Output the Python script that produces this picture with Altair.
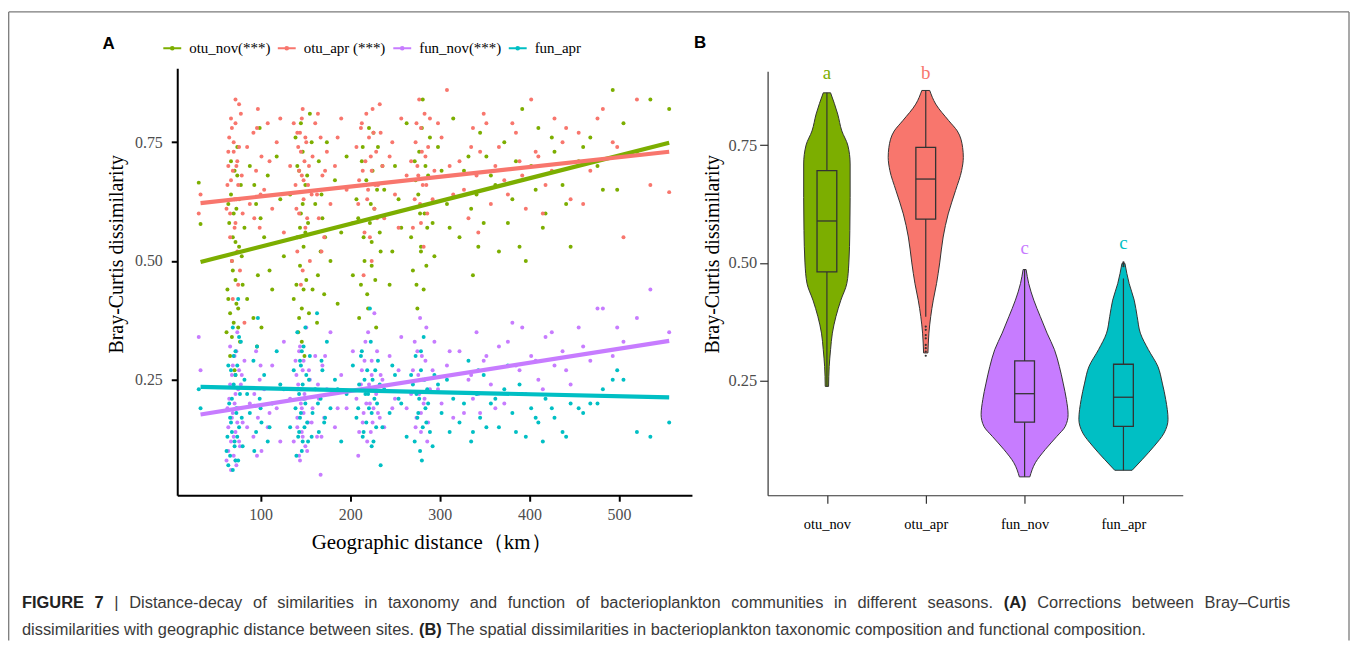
import altair as alt
import pandas as pd

# ---------------- data ----------------
categories = ["otu_nov", "otu_apr", "fun_nov", "fun_apr"]
legend_labels = ["otu_nov(***)", "otu_apr (***)", "fun_nov(***)", "fun_apr"]
palette = ["#7CAE00", "#F8766D", "#C77CFF", "#00BFC4"]

distance_km = [31, 33, 62, 64, 65, 66, 67, 68, 69, 70,
               71, 72, 72, 73, 74, 75, 76, 77, 78, 80,
               82, 88, 92, 95, 97, 99, 101, 104, 108, 113,
               118, 126, 133, 137, 139, 141, 142, 143, 144, 145,
               146, 147, 148, 149, 150, 151, 153, 155, 158, 161,
               163, 165, 167, 169, 171, 174, 178, 183, 190, 196,
               203, 207, 210, 213, 215, 217, 219, 221, 222, 224,
               225, 227, 229, 231, 234, 238, 244, 250, 257, 263,
               270, 273, 275, 277, 278, 279, 281, 282, 284, 286,
               289, 294, 302, 308, 315, 322, 332, 337, 341, 345,
               349, 357, 366, 372, 381, 389, 396, 402, 410, 418,
               428, 437, 446, 455, 468, 482, 493, 505, 520, 535, 556,
               63, 64, 66, 67, 68, 69, 70, 71, 72, 73,
               74, 75, 76, 79, 85, 93, 96, 100, 110, 122,
               140, 141, 143, 144, 145, 146, 147, 148, 150, 152,
               154, 157, 164, 168, 172, 186, 209, 212, 214, 216,
               218, 220, 223, 224, 226, 228, 230, 233, 236, 247,
               254, 268, 272, 274, 276, 279, 280, 283, 285, 287,
               292, 298, 311, 327, 335, 343, 352, 362, 376, 385,
               392, 407, 415, 425, 441, 460, 476, 498]

otu_nov = [0.665, 0.578, 0.35, 0.42, 0.58, 0.30, 0.64, 0.50, 0.55, 0.37,
           0.69, 0.46, 0.26, 0.61, 0.74, 0.40, 0.53, 0.33, 0.66, 0.45,
           0.57, 0.70, 0.38, 0.62, 0.47, 0.78, 0.36, 0.55, 0.68, 0.44,
           0.72, 0.51, 0.64, 0.42, 0.76, 0.55, 0.35, 0.69, 0.49, 0.60,
           0.40, 0.73, 0.53, 0.30, 0.66, 0.46, 0.58, 0.81, 0.44, 0.62,
           0.37, 0.71, 0.52, 0.59, 0.43, 0.75, 0.50, 0.67, 0.56, 0.72,
           0.47, 0.63, 0.38, 0.71, 0.55, 0.66, 0.43, 0.78, 0.58, 0.49,
           0.69, 0.61, 0.36, 0.74, 0.52, 0.65, 0.45, 0.70, 0.57, 0.79,
           0.48, 0.67, 0.40, 0.73, 0.60, 0.53, 0.84, 0.44, 0.70, 0.57,
           0.76, 0.51, 0.69, 0.62, 0.80, 0.55, 0.72, 0.47, 0.64, 0.77,
           0.58, 0.68, 0.52, 0.75, 0.63, 0.53, 0.50, 0.70, 0.78, 0.60,
           0.73, 0.66, 0.53, 0.71, 0.76, 0.65, 0.86, 0.79, 0.73, 0.84, 0.82,
           0.44, 0.62, 0.39, 0.71, 0.34, 0.48, 0.60, 0.27, 0.54, 0.41,
           0.68, 0.36, 0.63, 0.51, 0.42, 0.66, 0.32, 0.59, 0.48, 0.63,
           0.45, 0.70, 0.38, 0.57, 0.79, 0.33, 0.62, 0.44, 0.56, 0.68,
           0.39, 0.75, 0.47, 0.64, 0.55, 0.41, 0.59, 0.45, 0.74, 0.50,
           0.67, 0.40, 0.62, 0.54, 0.77, 0.46, 0.65, 0.56, 0.70, 0.52,
           0.63, 0.55, 0.71, 0.45, 0.64, 0.52, 0.78, 0.60, 0.49, 0.68,
           0.58, 0.74, 0.57, 0.69, 0.61, 0.53, 0.72, 0.66, 0.58, 0.71,
           0.82, 0.65, 0.57, 0.76, 0.62, 0.74, 0.70, 0.65]

otu_apr = [0.60, 0.64, 0.61, 0.70, 0.76, 0.55, 0.67, 0.78, 0.42, 0.73,
           0.63, 0.58, 0.84, 0.70, 0.52, 0.66, 0.74, 0.48, 0.81, 0.60,
           0.37, 0.62, 0.77, 0.69, 0.82, 0.57, 0.72, 0.65, 0.79, 0.61,
           0.75, 0.56, 0.70, 0.79, 0.66, 0.52, 0.74, 0.60, 0.77, 0.45,
           0.68, 0.82, 0.63, 0.71, 0.57, 0.75, 0.66, 0.50, 0.72, 0.79,
           0.64, 0.59, 0.76, 0.68, 0.55, 0.73, 0.62, 0.70, 0.80, 0.65,
           0.58, 0.74, 0.67, 0.79, 0.47, 0.71, 0.63, 0.76, 0.55, 0.69,
           0.82, 0.61, 0.73, 0.66, 0.77, 0.59, 0.72, 0.64, 0.80, 0.68,
           0.57, 0.75, 0.70, 0.84, 0.62, 0.78, 0.66, 0.53, 0.72, 0.60,
           0.80, 0.69, 0.76, 0.86, 0.64, 0.71, 0.59, 0.78, 0.68, 0.73,
           0.81, 0.62, 0.74, 0.67, 0.79, 0.71, 0.61, 0.84, 0.72, 0.66,
           0.80, 0.75, 0.63, 0.77, 0.69, 0.82, 0.75, 0.55, 0.84, 0.66, 0.645,
           0.66, 0.73, 0.60, 0.80, 0.50, 0.69, 0.75, 0.57, 0.79, 0.63,
           0.71, 0.45, 0.83, 0.68, 0.74, 0.59, 0.78, 0.64, 0.71, 0.80,
           0.61, 0.77, 0.69, 0.55, 0.73, 0.80, 0.48, 0.67, 0.76, 0.59,
           0.70, 0.64, 0.81, 0.52, 0.69, 0.76, 0.62, 0.78, 0.69, 0.56,
           0.81, 0.65, 0.72, 0.50, 0.77, 0.66, 0.59, 0.83, 0.70, 0.75,
           0.57, 0.71, 0.63, 0.79, 0.68, 0.58, 0.73, 0.81, 0.66, 0.74,
           0.63, 0.79, 0.70, 0.65, 0.74, 0.56, 0.79, 0.70, 0.64, 0.77,
           0.68, 0.73, 0.60, 0.69, 0.78, 0.62, 0.80, 0.74]

fun_nov = [0.34, 0.27, 0.08, 0.15, 0.21, 0.32, 0.12, 0.26, 0.18, 0.09,
           0.30, 0.14, 0.22, 0.07, 0.35, 0.19, 0.27, 0.11, 0.24, 0.16,
           0.29, 0.20, 0.13, 0.31, 0.17, 0.25, 0.10, 0.23, 0.15, 0.28,
           0.19, 0.33, 0.21, 0.12, 0.29, 0.17, 0.24, 0.09, 0.32, 0.20,
           0.14, 0.27, 0.18, 0.22, 0.11, 0.36, 0.16, 0.25, 0.19, 0.30,
           0.13, 0.21, 0.05, 0.28, 0.17, 0.23, 0.35, 0.15, 0.26, 0.19,
           0.31, 0.21, 0.14, 0.27, 0.18, 0.33, 0.12, 0.24, 0.20, 0.29,
           0.16, 0.39, 0.22, 0.18, 0.26, 0.15, 0.30, 0.21, 0.34, 0.19,
           0.27, 0.15, 0.31, 0.22, 0.38, 0.18, 0.25, 0.20, 0.29, 0.12,
           0.23, 0.33, 0.20, 0.28, 0.17, 0.31, 0.25, 0.21, 0.35, 0.18,
           0.29, 0.24, 0.32, 0.20, 0.37, 0.27, 0.22, 0.30, 0.25, 0.34,
           0.28, 0.31, 0.24, 0.36, 0.29, 0.40, 0.30, 0.33, 0.38, 0.44, 0.35,
           0.19, 0.10, 0.24, 0.06, 0.17, 0.28, 0.13, 0.20, 0.08, 0.31,
           0.16, 0.23, 0.12, 0.26, 0.15, 0.22, 0.09, 0.28, 0.18, 0.12,
           0.26, 0.15, 0.31, 0.08, 0.23, 0.19, 0.13, 0.29, 0.21, 0.10,
           0.27, 0.16, 0.24, 0.13, 0.30, 0.19, 0.09, 0.24, 0.16, 0.29,
           0.20, 0.35, 0.14, 0.26, 0.19, 0.23, 0.31, 0.17, 0.25, 0.19,
           0.27, 0.22, 0.33, 0.17, 0.26, 0.14, 0.30, 0.21, 0.36, 0.16,
           0.27, 0.23, 0.31, 0.18, 0.26, 0.22, 0.30, 0.19, 0.33, 0.28,
           0.36, 0.29, 0.23, 0.35, 0.27, 0.32, 0.40, 0.36]

fun_apr = [0.23, 0.19, 0.10, 0.07, 0.20, 0.17, 0.27, 0.14, 0.36, 0.24,
           0.12, 0.31, 0.08, 0.19, 0.28, 0.42, 0.15, 0.22, 0.33, 0.11,
           0.25, 0.18, 0.29, 0.14, 0.38, 0.21, 0.16, 0.26, 0.12, 0.20,
           0.31, 0.23, 0.15, 0.27, 0.19, 0.35, 0.13, 0.22, 0.17, 0.28,
           0.10, 0.24, 0.32, 0.15, 0.20, 0.26, 0.12, 0.30, 0.18, 0.23,
           0.39, 0.14, 0.21, 0.27, 0.16, 0.33, 0.19, 0.25, 0.12, 0.22,
           0.28, 0.17, 0.24, 0.31, 0.14, 0.22, 0.27, 0.19, 0.40, 0.11,
           0.25, 0.21, 0.15, 0.29, 0.07, 0.23, 0.18, 0.26, 0.20, 0.13,
           0.24, 0.30, 0.17, 0.21, 0.10, 0.27, 0.15, 0.34, 0.19, 0.23,
           0.14, 0.26, 0.18, 0.25, 0.21, 0.16, 0.29, 0.14, 0.22, 0.17,
           0.26, 0.20, 0.15, 0.23, 0.18, 0.24, 0.13, 0.19, 0.16, 0.21,
           0.17, 0.14, 0.20, 0.19, 0.20, 0.23, 0.25, 0.25, 0.14, 0.13, 0.16,
           0.13, 0.28, 0.09, 0.16, 0.21, 0.06, 0.30, 0.11, 0.26, 0.18,
           0.13, 0.08, 0.34, 0.17, 0.22, 0.10, 0.32, 0.19, 0.15, 0.24,
           0.09, 0.23, 0.14, 0.29, 0.18, 0.31, 0.12, 0.21, 0.36, 0.16,
           0.25, 0.13, 0.20, 0.29, 0.17, 0.23, 0.19, 0.30, 0.13, 0.25,
           0.16, 0.22, 0.33, 0.18, 0.12, 0.27, 0.20, 0.24, 0.15, 0.28,
           0.21, 0.26, 0.12, 0.22, 0.18, 0.31, 0.08, 0.25, 0.16, 0.20,
           0.11, 0.24, 0.14, 0.20, 0.12, 0.27, 0.15, 0.21, 0.28, 0.14,
           0.22, 0.17, 0.12, 0.19, 0.13, 0.18, 0.20, 0.27]

# fitted regression lines (end points)
fit_distance = [33, 556]
fit_otu_nov = [0.498, 0.749]
fit_otu_apr = [0.622, 0.730]
fit_fun_nov = [0.177, 0.332]
fit_fun_apr = [0.235, 0.213]

# violin outlines (level, half width in category units)
otu_nov_levels = [0.238, 0.280, 0.316, 0.351, 0.386, 0.421, 0.456, 0.500, 0.569, 0.639, 0.710, 0.750, 0.780, 0.816, 0.861]
otu_nov_halfw = [0.017, 0.023, 0.037, 0.055, 0.091, 0.141, 0.201, 0.222, 0.232, 0.235, 0.235, 0.211, 0.151, 0.109, 0.037]
otu_apr_levels = [0.309, 0.351, 0.386, 0.421, 0.456, 0.500, 0.555, 0.604, 0.654, 0.696, 0.724, 0.745, 0.780, 0.802, 0.837, 0.866]
otu_apr_halfw = [0.022, 0.032, 0.050, 0.076, 0.109, 0.141, 0.176, 0.227, 0.302, 0.363, 0.380, 0.373, 0.319, 0.232, 0.101, 0.040]
fun_nov_levels = [0.046, 0.076, 0.104, 0.132, 0.153, 0.178, 0.210, 0.245, 0.280, 0.316, 0.351, 0.386, 0.421, 0.456, 0.486]
fun_nov_halfw = [0.053, 0.109, 0.209, 0.327, 0.411, 0.440, 0.423, 0.390, 0.352, 0.302, 0.227, 0.159, 0.093, 0.042, 0.015]
fun_apr_levels = [0.060, 0.083, 0.111, 0.139, 0.168, 0.210, 0.245, 0.280, 0.316, 0.351, 0.386, 0.421, 0.456, 0.499]
fun_apr_halfw = [0.088, 0.191, 0.310, 0.411, 0.451, 0.428, 0.393, 0.349, 0.252, 0.171, 0.139, 0.109, 0.058, 0.015]

# box plot statistics
box_q1 = [0.481, 0.593, 0.162, 0.153]
box_median = [0.589, 0.678, 0.2225, 0.215]
box_q3 = [0.696, 0.745, 0.292, 0.285]
whisker_low = [0.238, 0.386, 0.046, 0.060]
whisker_high = [0.861, 0.866, 0.486, 0.467]
box_halfwidth = 0.1
outlier_group = ["otu_apr"] * 8 + ["fun_apr"] * 3
outlier_values = [0.365, 0.358, 0.347, 0.340, 0.326, 0.319, 0.312, 0.303, 0.493, 0.497, 0.501]

# significance letters
sig_letters = ["a", "b", "c", "c"]
sig_y = [0.890, 0.890, 0.518, 0.529]

# caption: line 1 as (word, bold), justified; line 2 as (segment, bold)
caption_line1 = [("FIGURE", True), ("7", True), ("|", False), ("Distance-decay", False), ("of", False),
                 ("similarities", False), ("in", False), ("taxonomy", False), ("and", False),
                 ("function", False), ("of", False), ("bacterioplankton", False),
                 ("communities", False), ("in", False), ("different", False), ("seasons.", False),
                 ("(A)", True), ("Corrections", False), ("between", False), ("Bray–Curtis", False)]
caption_line2 = [("dissimilarities with geographic distance between sites.", False), ("(B)", True),
                 ("The spatial dissimilarities in bacterioplankton taxonomic composition and functional composition.", False)]

# ---------------- styling / layout ----------------
SERIF = "Liberation Serif"
SANS = "Liberation Sans"
W = 1347
H = 488
CAP_SIZE = 16.5
CAP_LEFT = 14
CAP_RIGHT = 1288
CAP_Y1 = 601
CAP_Y2 = 628

# Arial / Liberation Sans advance widths (1/1000 em) for caption layout
_reg = {' ': 278, '(': 333, ')': 333, '-': 333, '.': 278, '|': 260, '–': 556,
        'A': 667, 'B': 667, 'C': 722, 'D': 722, 'E': 667, 'F': 611, 'G': 778, 'I': 278,
        'R': 722, 'T': 611, 'U': 722,
        'a': 556, 'b': 556, 'c': 500, 'd': 556, 'e': 556, 'f': 278, 'g': 556, 'h': 556,
        'i': 222, 'j': 222, 'k': 500, 'l': 222, 'm': 833, 'n': 556, 'o': 556, 'p': 556,
        'q': 556, 'r': 333, 's': 500, 't': 278, 'u': 556, 'v': 500, 'w': 722, 'x': 500,
        'y': 500, 'z': 500}
_bold = {' ': 278, '(': 333, ')': 333, '|': 280, 'A': 722, 'B': 722, 'E': 667, 'F': 611,
         'G': 778, 'I': 278, 'R': 722, 'U': 722, '7': 556}


def text_width(s, bold):
    table = _bold if bold else _reg
    return sum(table.get(ch, 556) for ch in s) * CAP_SIZE / 1000.0


caption_items = []
natural = sum(text_width(w, b) for w, b in caption_line1)
gap1 = (CAP_RIGHT - CAP_LEFT - natural) / (len(caption_line1) - 1)
cx = CAP_LEFT
for w, b in caption_line1:
    caption_items.append((w, b, cx, CAP_Y1))
    cx += text_width(w, b) + gap1
cx = CAP_LEFT
for w, b in caption_line2:
    caption_items.append((w, b, cx, CAP_Y2))
    cx += text_width(w, b) + text_width(" ", False)

# ---------------- tables ----------------
rows = []
for lab, vals in zip(legend_labels, [otu_nov, otu_apr, fun_nov, fun_apr]):
    for d, v in zip(distance_km, vals):
        rows.append({"series": lab, "distance": d, "bc": v})
scatter_df = pd.DataFrame(rows)

fit_rows = []
for lab, vals in zip(legend_labels, [fit_otu_nov, fit_otu_apr, fit_fun_nov, fit_fun_apr]):
    for d, v in zip(fit_distance, vals):
        fit_rows.append({"series": lab, "distance": d, "bc": v})
fit_df = pd.DataFrame(fit_rows)

vrows = []
for i, (cat, lv, hw) in enumerate(zip(categories,
                                      [otu_nov_levels, otu_apr_levels, fun_nov_levels, fun_apr_levels],
                                      [otu_nov_halfw, otu_apr_halfw, fun_nov_halfw, fun_apr_halfw])):
    for l, w in zip(lv, hw):
        vrows.append({"cat": cat, "bc": l, "lo": i + 1 - w, "hi": i + 1 + w})
violin_df = pd.DataFrame(vrows)

box_df = pd.DataFrame({
    "cat": categories,
    "pos": [1, 2, 3, 4],
    "bl": [p - box_halfwidth for p in [1, 2, 3, 4]],
    "br": [p + box_halfwidth for p in [1, 2, 3, 4]],
    "q1": box_q1, "med": box_median, "q3": box_q3,
    "wlo": whisker_low, "whi": whisker_high,
    "letter": sig_letters, "ly": sig_y,
})
out_df = pd.DataFrame({
    "cat": outlier_group,
    "pos": [categories.index(c) + 1 for c in outlier_group],
    "bc": outlier_values,
})

# ---------------- panel A ----------------
xA = alt.Scale(domain=[7, 581.4], range=[170, 687], nice=False, zero=False)
yA = alt.Scale(domain=[0.0069, 0.906], range=[H, 59], nice=False, zero=False)
colA = alt.Scale(domain=legend_labels, range=palette)


def axis_ax():
    return alt.Axis(orient="bottom", values=[100, 200, 300, 400, 500], format="d",
                    title="Geographic distance（km）", titleFont=SERIF, titleFontSize=21,
                    titleFontWeight="normal", titleColor="black", titleX=425, titleY=53,
                    titleAlign="center", titleBaseline="alphabetic",
                    labelFont=SERIF, labelFontSize=16, labelColor="#4D4D4D", labelPadding=5,
                    tickSize=6, tickWidth=2, tickColor="black", domainColor="black",
                    domainWidth=2, grid=False)


def axis_ay():
    return alt.Axis(orient="left", offset=-170, values=[0.25, 0.5, 0.75], format=".2f",
                    title="Bray-Curtis dissimilarity", titleFont=SERIF, titleFontSize=20,
                    titleFontWeight="normal", titleColor="black", titleX=-55, titleY=245.5,
                    titleAngle=270, titleAlign="center", titleBaseline="alphabetic",
                    labelFont=SERIF, labelFontSize=16, labelColor="#4D4D4D", labelPadding=9,
                    tickSize=6, tickWidth=2, tickColor="black", domainColor="black",
                    domainWidth=2, grid=False)


legend_symbol = "M-1,0L1,0M0.15,0A0.15,0.15,0,1,1,-0.15,0A0.15,0.15,0,1,1,0.15,0Z"


def legend_a():
    return alt.Legend(orient="none", legendX=155, legendY=29,
                      direction="horizontal", title=None,
                      symbolType=legend_symbol, symbolSize=324,
                      symbolStrokeWidth=2, symbolOpacity=1, labelFont=SERIF,
                      labelFontSize=15, labelColor="black",
                      labelOffset=7, columnPadding=3)


pts = alt.Chart(scatter_df).mark_circle(size=16, opacity=1).encode(
    x=alt.X("distance:Q", scale=xA, axis=axis_ax()),
    y=alt.Y("bc:Q", scale=yA, axis=axis_ay()),
    color=alt.Color("series:N", scale=colA, legend=legend_a()),
)
fits = alt.Chart(fit_df).mark_line(strokeWidth=4.2).encode(
    x=alt.X("distance:Q", scale=xA, axis=axis_ax()),
    y=alt.Y("bc:Q", scale=yA, axis=axis_ay()),
    color=alt.Color("series:N", scale=colA, legend=legend_a()),
)
panelA = alt.layer(pts, fits)

# ---------------- panel B ----------------
xB = alt.Scale(domain=[0.4, 4.6], range=[763, 1180], nice=False, zero=False)
yB = alt.Scale(domain=[0.007, 0.907], range=[H, 62], nice=False, zero=False)
fillB = alt.Scale(domain=categories, range=palette)
label_expr = "[" + ",".join("'" + c + "'" for c in categories) + "][datum.value - 1]"


def axis_bx():
    return alt.Axis(orient="bottom", values=[1, 2, 3, 4], labelExpr=label_expr, title=None,
                    labelFont=SERIF, labelFontSize=14.5, labelColor="black", labelPadding=14,
                    tickSize=8, tickWidth=1.2, tickColor="#333333", domainColor="#333333",
                    domainWidth=1.2, grid=False)


def axis_by():
    return alt.Axis(orient="left", offset=-763, values=[0.25, 0.5, 0.75], format=".2f",
                    title="Bray-Curtis dissimilarity", titleFont=SERIF, titleFontSize=20,
                    titleFontWeight="normal", titleColor="black", titleX=-49, titleY=245.5,
                    titleAngle=270, titleAlign="center", titleBaseline="alphabetic",
                    labelFont=SERIF, labelFontSize=16.5, labelColor="#4D4D4D", labelPadding=3,
                    tickSize=8, tickWidth=1.2, tickColor="#333333", domainColor="#333333",
                    domainWidth=1.2, grid=False)


violins = alt.Chart(violin_df).mark_area(orient="horizontal", interpolate="monotone",
                                         stroke="#333333", strokeWidth=1, opacity=1).encode(
    y=alt.Y("bc:Q", scale=yB, axis=axis_by()),
    x=alt.X("lo:Q", scale=xB, axis=axis_bx()),
    x2="hi:Q",
    fill=alt.Fill("cat:N", scale=fillB, legend=None),
)
whisk_lo = alt.Chart(box_df).mark_rule(color="#333333", strokeWidth=1.2).encode(
    x=alt.X("pos:Q", scale=xB, axis=axis_bx()),
    y=alt.Y("wlo:Q", scale=yB, axis=axis_by()),
    y2="q1:Q",
)
whisk_hi = alt.Chart(box_df).mark_rule(color="#333333", strokeWidth=1.2).encode(
    x=alt.X("pos:Q", scale=xB, axis=axis_bx()),
    y=alt.Y("q3:Q", scale=yB, axis=axis_by()),
    y2="whi:Q",
)
boxes = alt.Chart(box_df).mark_rect(fillOpacity=0, stroke="#333333", strokeWidth=1.3).encode(
    x=alt.X("bl:Q", scale=xB, axis=axis_bx()),
    x2="br:Q",
    y=alt.Y("q1:Q", scale=yB, axis=axis_by()),
    y2="q3:Q",
)
medians = alt.Chart(box_df).mark_rule(color="#333333", strokeWidth=1.3).encode(
    x=alt.X("bl:Q", scale=xB, axis=axis_bx()),
    x2="br:Q",
    y=alt.Y("med:Q", scale=yB, axis=axis_by()),
)
outliers = alt.Chart(out_df).mark_circle(size=5, color="#333333", opacity=1).encode(
    x=alt.X("pos:Q", scale=xB, axis=axis_bx()),
    y=alt.Y("bc:Q", scale=yB, axis=axis_by()),
)
letters = alt.Chart(box_df).mark_text(font=SERIF, fontSize=19, baseline="alphabetic",
                                      align="center").encode(
    x=alt.X("pos:Q", scale=xB, axis=axis_bx()),
    y=alt.Y("ly:Q", scale=yB, axis=axis_by()),
    text="letter:N",
    fill=alt.Fill("cat:N", scale=fillB, legend=None),
)
panelB = alt.layer(violins, whisk_lo, whisk_hi, boxes, medians, outliers, letters)

# ---------------- annotations ----------------
one = pd.DataFrame({"k": [0]})
frame_color = "#7a7a7a"
frame_left = alt.Chart(one).mark_rule(color=frame_color, strokeWidth=1.3).encode(
    x=alt.value(0.7), y=alt.value(2.5), y2=alt.value(634))
frame_top = alt.Chart(one).mark_rule(color=frame_color, strokeWidth=1.3).encode(
    x=alt.value(0.7), x2=alt.value(W), y=alt.value(2.5))
frame_right = alt.Chart(one).mark_rule(color=frame_color, strokeWidth=1.3).encode(
    x=alt.value(W), y=alt.value(2.5), y2=alt.value(634))

panel_tags = pd.DataFrame({"tag": ["A", "B"]})
tag_a = alt.Chart(panel_tags[panel_tags.tag == "A"]).mark_text(
    font=SANS, fontSize=17, fontWeight="bold", align="left", baseline="alphabetic",
    color="black").encode(text="tag:N", x=alt.value(95), y=alt.value(39.7))
tag_b = alt.Chart(panel_tags[panel_tags.tag == "B"]).mark_text(
    font=SANS, fontSize=17, fontWeight="bold", align="left", baseline="alphabetic",
    color="black").encode(text="tag:N", x=alt.value(689), y=alt.value(38.7))

caption_df = pd.DataFrame([{"t": t, "b": b, "x": x, "y": y} for t, b, x, y in caption_items])
cap_regular = alt.Chart(caption_df[~caption_df.b]).mark_text(
    font=SANS, fontSize=CAP_SIZE, align="left", baseline="alphabetic", color="#3a3a3a").encode(
    text="t:N", x=alt.X("x:Q", scale=None), y=alt.Y("y:Q", scale=None))
cap_bold = alt.Chart(caption_df[caption_df.b]).mark_text(
    font=SANS, fontSize=CAP_SIZE, fontWeight="bold", align="left", baseline="alphabetic",
    color="#222222").encode(
    text="t:N", x=alt.X("x:Q", scale=None), y=alt.Y("y:Q", scale=None))

chart = alt.layer(
    panelA, panelB, tag_a, tag_b, frame_left, frame_top, frame_right, cap_regular, cap_bold
).resolve_scale(
    x="independent", y="independent"
).properties(
    width=W, height=H, padding=0
).configure_view(strokeWidth=0)

chart.save("out.html", embed_options={"renderer": "svg", "actions": False})
